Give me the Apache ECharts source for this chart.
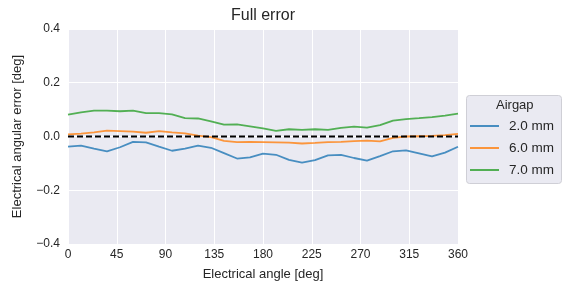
<!DOCTYPE html>
<html>
<head>
<meta charset="utf-8">
<script src="https://cdn.jsdelivr.net/npm/echarts@6/dist/echarts.min.js"></script>
<style>
  html, body { margin: 0; padding: 0; background: #fff; }
  #chart { width: 563px; height: 286px; }
</style>
</head>
<body>
<div id="chart"></div>
<script>
// electrical angle, one sample every 12 deg
const angles = []
for (let a = 0; a <= 360; a += 12) angles.push(a)

const airgap2 = [-0.038, -0.034, -0.045, -0.055, -0.040, -0.020, -0.022, -0.038, -0.053, -0.045,
  -0.034, -0.042, -0.062, -0.082, -0.078, -0.064, -0.068, -0.087, -0.097, -0.088,
  -0.070, -0.068, -0.080, -0.090, -0.073, -0.055, -0.052, -0.063, -0.074, -0.060, -0.038]
const airgap6 = [0.008, 0.011, 0.015, 0.022, 0.020, 0.018, 0.014, 0.020, 0.015, 0.012,
  0.003, -0.002, -0.016, -0.021, -0.020, -0.021, -0.022, -0.023, -0.026, -0.024,
  -0.021, -0.020, -0.017, -0.015, -0.018, -0.005, 0.000, 0.001, 0.002, 0.005, 0.010]
const airgap7 = [0.081, 0.090, 0.096, 0.096, 0.094, 0.096, 0.087, 0.087, 0.082, 0.068,
  0.067, 0.056, 0.044, 0.045, 0.038, 0.030, 0.021, 0.027, 0.025, 0.027,
  0.025, 0.032, 0.037, 0.033, 0.042, 0.059, 0.065, 0.068, 0.072, 0.078, 0.085]

const seriesNames = ['2.0 mm', '6.0 mm', '7.0 mm']
const seriesColors = ['#1f77b4', '#ff7f0e', '#2ca02c']
const seriesValues = [airgap2, airgap6, airgap7]

const FONT = 'Liberation Sans, Arial, sans-serif'
const TEXT = '#262626'

const chart = echarts.init(document.getElementById('chart'))

const lines = seriesValues.map((vals, i) => ({
  name: seriesNames[i],
  type: 'line',
  data: angles.map((a, j) => [a, vals[j]]),
  showSymbol: false,
  lineStyle: { color: seriesColors[i], width: 1.8, opacity: 0.8 },
  itemStyle: { color: seriesColors[i], opacity: 0.8 },
  z: 3,
}))

// reference zero line
lines.push({
  name: 'zero',
  type: 'line',
  data: [[0, 0], [360, 0]],
  showSymbol: false,
  lineStyle: { color: '#000', width: 1.8, type: [6, 3] },
  z: 4,
})

chart.setOption({
  animation: false,
  backgroundColor: '#fff',
  textStyle: { fontFamily: FONT },
  title: {
    text: 'Full error',
    left: 263, top: 8, padding: 0, textAlign: 'center',
    textStyle: { fontSize: 16, fontWeight: 'normal', color: TEXT, fontFamily: FONT },
  },
  grid: { left: 68, right: 105, top: 29, bottom: 40, show: true, backgroundColor: '#EAEAF2', borderWidth: 0 },
  xAxis: {
    type: 'value', min: 0, max: 360, interval: 45,
    name: 'Electrical angle [deg]', nameLocation: 'middle', nameGap: 24,
    nameTextStyle: { fontSize: 13, color: TEXT, fontFamily: FONT },
    axisLine: { show: false }, axisTick: { show: false },
    axisLabel: { fontSize: 12, color: TEXT, margin: 5, fontFamily: FONT },
    splitLine: { lineStyle: { color: '#fff', width: 1 } },
  },
  yAxis: {
    type: 'value', min: -0.4, max: 0.4, interval: 0.2,
    name: 'Electrical angular error [deg]', nameLocation: 'middle', nameGap: 44,
    nameTextStyle: { fontSize: 13, color: TEXT, fontFamily: FONT },
    axisLine: { show: false }, axisTick: { show: false },
    axisLabel: {
      fontSize: 12, color: TEXT, margin: 8, fontFamily: FONT,
      formatter: v => v.toFixed(1).replace('-', '\u2212'),
    },
    splitLine: { lineStyle: { color: '#fff', width: 1 } },
  },
  legend: {
    data: seriesNames,
    orient: 'vertical', left: 470, top: 119, padding: 0,
    itemWidth: 29, itemHeight: 2, itemGap: 8,
    icon: 'rect',
    textStyle: { fontSize: 13.5, lineHeight: 14, color: TEXT, fontFamily: FONT, padding: [0, 0, 0, 5] },
  },
  graphic: [
    {
      type: 'rect', left: 466, top: 95, z: 0,
      shape: { width: 95, height: 88, r: 3 },
      style: { fill: '#EAEAF2', stroke: '#cfcfd6', lineWidth: 1 },
    },
    {
      type: 'text', left: 496, top: 99, z: 1,
      style: { text: 'Airgap', fontSize: 13, fill: TEXT, fontFamily: FONT },
    },
  ],
  series: lines,
})
</script>
</body>
</html>
